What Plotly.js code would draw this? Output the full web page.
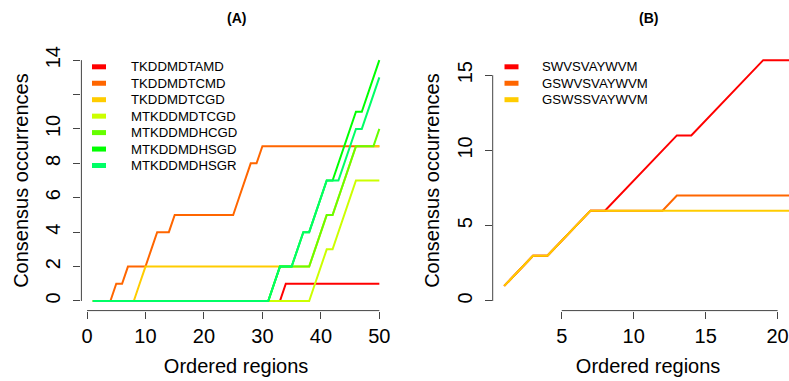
<!DOCTYPE html>
<html>
<head>
<meta charset="utf-8">
<script src="https://cdn.plot.ly/plotly-3.0.1.min.js"></script>
<style>
html, body { margin: 0; padding: 0; width: 789px; height: 381px; overflow: hidden; background: #fff; }
#chart { width: 806px; height: 381px; }
</style>
</head>
<body>
<div id="chart"></div>
<script>
// ---------- Panel (A) data ----------
const regionsA = [1,2,3,4,5,6,7,8,9,10,11,12,13,14,15,16,17,18,19,20,21,22,23,24,25,26,27,28,29,30,31,32,33,34,35,36,37,38,39,40,41,42,43,44,45,46,47,48,49,50];
const namesA = ["TKDDMDTAMD","TKDDMDTCMD","TKDDMDTCGD","MTKDDMDTCGD","MTKDDMDHCGD","MTKDDMDHSGD","MTKDDMDHSGR"];
const colorsA = ["#FF0000","#FF6600","#FFCC00","#CCFF00","#66FF00","#00FF00","#00FF66"];
const TKDDMDTAMD = [0,0,0,0,0,0,0,0,0,0,0,0,0,0,0,0,0,0,0,0,0,0,0,0,0,0,0,0,0,0,0,0,0,1,1,1,1,1,1,1,1,1,1,1,1,1,1,1,1,1];
const TKDDMDTCMD = [0,0,0,0,1,1,2,2,2,2,3,4,4,4,5,5,5,5,5,5,5,5,5,5,5,6,7,8,8,9,9,9,9,9,9,9,9,9,9,9,9,9,9,9,9,9,9,9,9,9];
const TKDDMDTCGD = [0,0,0,0,0,0,0,0,1,2,2,2,2,2,2,2,2,2,2,2,2,2,2,2,2,2,2,2,2,2,2,2,2,2,2,2,2,2,3,4,5,5,6,7,8,9,9,9,9,9];
const MTKDDMDTCGD = [0,0,0,0,0,0,0,0,0,0,0,0,0,0,0,0,0,0,0,0,0,0,0,0,0,0,0,0,0,0,0,0,0,0,0,0,0,0,1,2,3,3,4,5,6,7,7,7,7,7];
const MTKDDMDHCGD = [0,0,0,0,0,0,0,0,0,0,0,0,0,0,0,0,0,0,0,0,0,0,0,0,0,0,0,0,0,0,0,1,2,2,2,2,2,2,3,4,5,5,6,7,8,9,9,9,9,10];
const MTKDDMDHSGD = [0,0,0,0,0,0,0,0,0,0,0,0,0,0,0,0,0,0,0,0,0,0,0,0,0,0,0,0,0,0,0,1,2,2,2,3,4,4,5,6,7,7,8,9,10,11,11,12,13,14];
const MTKDDMDHSGR = [0,0,0,0,0,0,0,0,0,0,0,0,0,0,0,0,0,0,0,0,0,0,0,0,0,0,0,0,0,0,0,1,2,2,2,3,4,4,5,6,7,7,7,8,9,10,10,11,12,13];
const valuesA = [TKDDMDTAMD, TKDDMDTCMD, TKDDMDTCGD, MTKDDMDTCGD, MTKDDMDHCGD, MTKDDMDHSGD, MTKDDMDHSGR];
const xTicksA = [0,10,20,30,40,50];
const yTicksA = [0,2,4,6,8,10,12,14];
const yTickTextA = ["0","2","4","6","8","10","","14"];

// ---------- Panel (B) data ----------
const regionsB = [1,2,3,4,5,6,7,8,9,10,11,12,13,14,15,16,17,18,19,20,21];
const namesB = ["SWVSVAYWVM","GSWVSVAYWVM","GSWSSVAYWVM"];
const colorsB = ["#FF0000","#FF6600","#FFCC00"];
const SWVSVAYWVM  = [1,2,3,3,4,5,6,6,7,8,9,10,11,11,12,13,14,15,16,16,16];
const GSWVSVAYWVM = [1,2,3,3,4,5,6,6,6,6,6,6,7,7,7,7,7,7,7,7,7];
const GSWSSVAYWVM = [1,2,3,3,4,5,6,6,6,6,6,6,6,6,6,6,6,6,6,6,6];
const valuesB = [SWVSVAYWVM, GSWVSVAYWVM, GSWSSVAYWVM];
const xTicksB = [5,10,15,20];
const yTicksB = [0,5,10,15];

// ---------- geometry (pixels -> paper) ----------
const W = 806, H = 381;
const fx = p => p / W;
const fy = p => 1 - p / H;
const FONT = "Liberation Sans, Arial, Helvetica, sans-serif";
const AX = "#444";
const yDom = [fy(310.6), fy(50.5)];
const xDomA = [fx(81.4), fx(390.8)];
const xDomB = [fx(492.7), fx(803.5)];

const traces = [];
valuesA.forEach((v, i) => traces.push({
  type: "scatter", mode: "lines", x: regionsA, y: v, name: namesA[i],
  xaxis: "x", yaxis: "y", line: {color: colorsA[i], width: 2}, showlegend: false, hoverinfo: "x+y+name"
}));
valuesB.forEach((v, i) => traces.push({
  type: "scatter", mode: "lines", x: regionsB, y: v, name: namesB[i],
  xaxis: "x2", yaxis: "y2", line: {color: colorsB[i], width: 2}, showlegend: false, hoverinfo: "x+y+name"
}));

function axisBase() {
  return {
    showgrid: false, zeroline: false, showline: false,
    ticks: "outside", ticklen: 7, tickwidth: 1, tickcolor: AX,
    tickfont: {family: FONT, size: 20, color: "#000"}, fixedrange: true
  };
}
const xaxis = Object.assign(axisBase(), {
  domain: xDomA, range: [-0.96, 51.96], anchor: "y", tickmode: "array", tickvals: xTicksA,
  title: {text: "Ordered regions", font: {family: FONT, size: 20, color: "#000"}, standoff: 13}
});
const yaxis = Object.assign(axisBase(), {
  domain: yDom, range: [-0.56, 14.56], anchor: "x", tickmode: "array", tickvals: yTicksA, ticktext: yTickTextA,
  tickangle: -90, ticklabelstandoff: 5,
  title: {text: "Consensus occurrences", font: {family: FONT, size: 20, color: "#000"}, standoff: 8}
});
const xaxis2 = Object.assign(axisBase(), {
  domain: xDomB, range: [0.2, 21.8], anchor: "y2", tickmode: "array", tickvals: xTicksB,
  title: {text: "Ordered regions", font: {family: FONT, size: 20, color: "#000"}, standoff: 13}
});
const yaxis2 = Object.assign(axisBase(), {
  domain: yDom, range: [-0.64, 16.64], anchor: "x2", tickmode: "array", tickvals: yTicksB,
  tickangle: -90, ticklabelstandoff: 5,
  title: {text: "Consensus occurrences", font: {family: FONT, size: 20, color: "#000"}, standoff: 8}
});

// axis lines spanning first..last tick (R style)
const shapes = [
  {type: "line", xref: "x", yref: "paper", x0: xTicksA[0], x1: xTicksA[xTicksA.length-1], y0: yDom[0], y1: yDom[0], line: {color: AX, width: 1}},
  {type: "line", xref: "paper", yref: "y", x0: xDomA[0], x1: xDomA[0], y0: yTicksA[0], y1: yTicksA[yTicksA.length-1], line: {color: AX, width: 1}},
  {type: "line", xref: "x2", yref: "paper", x0: xTicksB[0], x1: xTicksB[xTicksB.length-1], y0: yDom[0], y1: yDom[0], line: {color: AX, width: 1}},
  {type: "line", xref: "paper", yref: "y2", x0: xDomB[0], x1: xDomB[0], y0: yTicksB[0], y1: yTicksB[yTicksB.length-1], line: {color: AX, width: 1}}
];

const annotations = [
  {text: "<b>(A)</b>", xref: "x domain", yref: "paper", x: 0.5, y: fy(18), xanchor: "center", yanchor: "middle", showarrow: false, font: {family: FONT, size: 14, color: "#000"}},
  {text: "<b>(B)</b>", xref: "x2 domain", yref: "paper", x: 0.5, y: fy(18), xanchor: "center", yanchor: "middle", showarrow: false, font: {family: FONT, size: 14, color: "#000"}}
];

// legends (R style: short thick swatch, text to its right)
function addLegend(names, colors, swX0, swX1, textX, yStart, step) {
  names.forEach((n, i) => {
    const yy = fy(yStart + step * i);
    shapes.push({type: "line", xref: "paper", yref: "paper", x0: fx(swX0), x1: fx(swX1), y0: yy, y1: yy, line: {color: colors[i], width: 5}});
    annotations.push({text: n, xref: "paper", yref: "paper", x: fx(textX), y: yy, xanchor: "left", yanchor: "middle", showarrow: false,
      font: {family: FONT, size: 13.2, color: "#000"}});
  });
}
addLegend(namesA, colorsA, 92, 106, 128.5, 66.8, 16.45);
addLegend(namesB, colorsB, 504.5, 518.5, 540, 66.8, 16.45);

const layout = {
  width: W, height: H,
  margin: {l: 0, r: 0, t: 0, b: 0},
  paper_bgcolor: "#fff", plot_bgcolor: "#fff",
  font: {family: FONT, color: "#000"},
  showlegend: false,
  xaxis, yaxis, xaxis2, yaxis2, shapes, annotations
};
Plotly.newPlot("chart", traces, layout, {displayModeBar: false, staticPlot: true});
</script>
</body>
</html>
